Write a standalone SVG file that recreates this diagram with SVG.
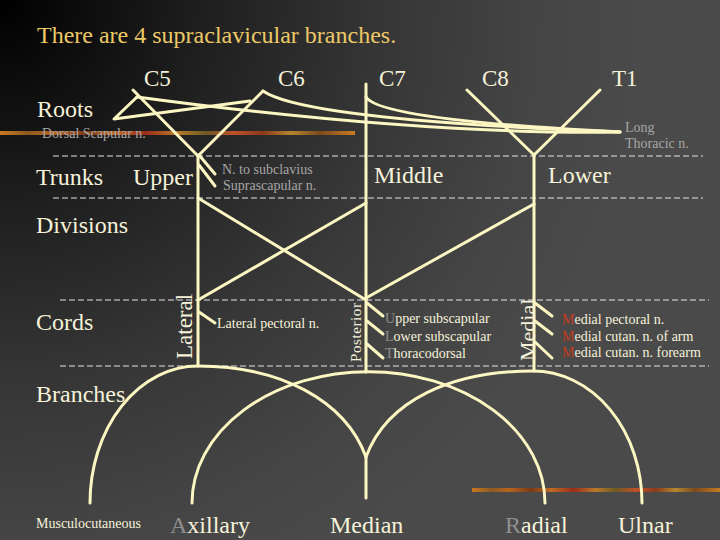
<svg xmlns="http://www.w3.org/2000/svg" width="720" height="540" viewBox="0 0 720 540" font-family="'Liberation Serif', 'DejaVu Serif', serif">
<defs>
<radialGradient id="bgGrad" cx="0" cy="0" r="640" gradientUnits="userSpaceOnUse">
<stop offset="0" stop-color="#000000"/>
<stop offset="0.3" stop-color="#1d1d1d"/>
<stop offset="0.6" stop-color="#363636"/>
<stop offset="0.85" stop-color="#454545"/>
<stop offset="1" stop-color="#4a4a4a"/>
</radialGradient>
<linearGradient id="bar" x1="0" y1="0" x2="1" y2="0">
<stop offset="0" stop-color="#c8781e"/>
<stop offset="0.08" stop-color="#8c5a22"/>
<stop offset="0.15" stop-color="#b8641c"/>
<stop offset="0.24" stop-color="#7a3a18"/>
<stop offset="0.32" stop-color="#c06a24"/>
<stop offset="0.41" stop-color="#9a2c1a"/>
<stop offset="0.5" stop-color="#b87a2a"/>
<stop offset="0.58" stop-color="#6e5a22"/>
<stop offset="0.66" stop-color="#c0502a"/>
<stop offset="0.74" stop-color="#8a3a1a"/>
<stop offset="0.82" stop-color="#b4862e"/>
<stop offset="0.9" stop-color="#7c4a1c"/>
<stop offset="1" stop-color="#c87a24"/>
</linearGradient>
<style>
.ln{stroke:#fcf7c2;stroke-width:3;fill:none;stroke-linecap:round;stroke-linejoin:round}
.dash{stroke:#e4e4e4;stroke-width:1;stroke-dasharray:6 3;fill:none}
.title{font-family:"Liberation Serif",serif;font-size:24px;fill:#ecc967}
.big{font-family:"Liberation Serif",serif;font-size:24px;fill:#f6f2da}
.root{font-family:"Liberation Serif",serif;font-size:23px;fill:#f6f2da}
.sm{font-family:"Liberation Serif",serif;font-size:14px;fill:#f6f2da}
.gray{font-family:"Liberation Serif",serif;font-size:14px;fill:#a6a6a6}
.dim{fill:#8e8e8e}
.red{fill:#c83a1c}
</style>
</defs>
<rect width="720" height="540" fill="url(#bgGrad)"/>
<rect id="bar-top" x="0" y="131" width="355" height="4" fill="url(#bar)"/>
<rect id="bar-bottom" x="472" y="488" width="248" height="4" fill="url(#bar)"/>

<text id="title" class="title" x="37" y="43">There are 4 supraclavicular branches.</text>

<g id="guides">
<line class="dash" x1="53" y1="156" x2="703" y2="156"/>
<line class="dash" x1="53" y1="198" x2="703" y2="198"/>
<line class="dash" x1="60" y1="300" x2="709" y2="300"/>
<line class="dash" x1="60" y1="366" x2="709" y2="366"/>
</g>

<g id="level-labels">
<text class="big" x="37" y="117">Roots</text>
<text class="big" x="36" y="185">Trunks</text>
<text class="big" x="36" y="233">Divisions</text>
<text class="big" x="36" y="330">Cords</text>
<text class="big" x="36" y="402">Branches</text>
</g>

<g id="connectors">
<path class="ln" d="M133,90 L198,156"/>
<path class="ln" d="M263,91 L198,156"/>
<path class="ln" d="M137,97 L114,119 L250,101"/>
<path class="ln" d="M137,97 Q420,135 620,132"/>
<path class="ln" d="M263,91 Q305,120 620,132"/>
<path class="ln" d="M366,97 Q380,120 620,132"/>
<path class="ln" d="M467,90 L534,155 L600,90"/>
<path class="ln" d="M198,156 L198,366"/>
<path class="ln" d="M366,84 L366,372"/>
<path class="ln" d="M534,155 L534,371"/>
<path class="ln" d="M199,155 L215,174"/>
<path class="ln" d="M199,165 L215,186"/>
<path class="ln" d="M198,198 L366,300"/>
<path class="ln" d="M366,203 L198,300"/>
<path class="ln" d="M534,204 L366,298"/>
<path class="ln" d="M199,312 L215,323"/>
<path class="ln" d="M367,303 L383,316"/>
<path class="ln" d="M367,321 L383,334"/>
<path class="ln" d="M367,344 L383,358"/>
<path class="ln" d="M535,303 L552,316"/>
<path class="ln" d="M535,321 L552,334"/>
<path class="ln" d="M535,342 L552,358"/>
<path class="ln" d="M90,503 A108,137 0 0 1 198,366 C280,366 345,400 366,457"/>
<path class="ln" d="M192,503 A176,131 0 0 1 545,503"/>
<path class="ln" d="M366,457 C387,400 452,371 533,371 A109,132 0 0 1 642,503"/>
<path class="ln" d="M366,457 L366,498"/>
</g>

<g id="roots">
<text class="root" x="144" y="86">C5</text>
<text class="root" x="278" y="86">C6</text>
<text class="root" x="379" y="86">C7</text>
<text class="root" x="482" y="86">C8</text>
<text class="root" x="612" y="86">T1</text>
<text class="gray" x="42" y="138">Dorsal Scapular n.</text>
<text class="gray" x="625" y="132">Long</text>
<text class="gray" x="625" y="148">Thoracic n.</text>
</g>

<g id="trunks">
<text class="big" x="133" y="185">Upper</text>
<text class="big" x="374" y="183">Middle</text>
<text class="big" x="548" y="183">Lower</text>
<text class="gray" x="222" y="174">N. to subclavius</text>
<text class="gray" x="223" y="190">Suprascapular n.</text>
</g>

<g id="cord-lateral">
<text class="big" style="font-size:23px" transform="translate(192,359) rotate(-90)">Lateral</text>
<text class="sm" x="217" y="328">Lateral pectoral n.</text>
</g>

<g id="cord-posterior">
<text class="sm" style="font-size:15px;letter-spacing:0.6px" transform="translate(361,362) rotate(-90)">Posterior</text>
<text class="sm" x="385" y="323"><tspan class="dim">U</tspan>pper subscapular</text>
<text class="sm" x="385" y="341"><tspan class="dim">L</tspan>ower subscapular</text>
<text class="sm" x="385" y="358"><tspan class="dim">T</tspan>horacodorsal</text>
</g>

<g id="cord-medial">
<text class="big" style="font-size:22px" transform="translate(535,361) rotate(-90)">Medial</text>
<text class="sm" x="562" y="324"><tspan class="red">M</tspan>edial pectoral n.</text>
<text class="sm" x="562" y="341"><tspan class="red">M</tspan>edial cutan. n. of arm</text>
<text class="sm" x="562" y="357"><tspan class="red">M</tspan>edial cutan. n. forearm</text>
</g>

<g id="branches">
<text class="sm" x="36" y="528">Musculocutaneous</text>
<text class="big" x="170" y="533"><tspan class="dim">A</tspan>xillary</text>
<text class="big" x="330" y="533">Median</text>
<text class="big" x="505" y="533"><tspan class="dim">R</tspan>adial</text>
<text class="big" x="618" y="533">Ulnar</text>
</g>
</svg>
